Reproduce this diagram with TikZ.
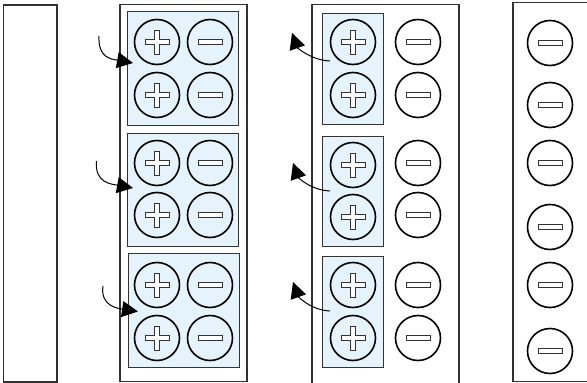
\documentclass[tikz,border=0pt]{standalone}
\usetikzlibrary{arrows.meta}
\definecolor{cellblue}{RGB}{229,244,252}

% a charged particle: circle node with an outlined sign in it
\newcommand\posion[3]{%
  \node[ion] (#1) at (#2,#3) {};
  \draw[sign,shift={(#1.center)}] (-2.5,-12) -- (2.5,-12) -- (2.5,-2.5) -- (12,-2.5)
    -- (12,2.5) -- (2.5,2.5) -- (2.5,12) -- (-2.5,12) -- (-2.5,2.5) -- (-12,2.5)
    -- (-12,-2.5) -- (-2.5,-2.5) -- cycle;}
\newcommand\negion[3]{%
  \node[ion] (#1) at (#2,#3) {};
  \draw[sign,shift={(#1.center)}] (-12,-2.3) rectangle (12,2.3);}

\begin{document}
\begin{tikzpicture}[x=1pt,y=-1pt,
  panel/.style={draw=black!80,line width=1.2pt},
  cell/.style={draw=black!80,fill=cellblue,line width=1pt},
  ion/.style={circle,draw=black,line width=1.6pt,minimum size=45pt,inner sep=0pt},
  sign/.style={draw=black!80,fill=white,line width=0.8pt},
  push/.style={line width=1pt,-{Triangle[length=16pt,width=16pt]}}]
\useasboundingbox (0,0) rectangle (587,383);
\clip (0,0) rectangle (587,383);

% plates
\draw[panel] (3.5,5) rectangle (57,382);
\draw[panel] (120,4.5) rectangle (247,381.5);
\draw[panel] (312,4.5) rectangle (459,390);
\draw[panel] (513,2.5) rectangle (595,381.5);

% paired cells
\draw[cell] (127,11.5) rectangle (238,125);
\draw[cell] (127,133.5) rectangle (238,246.5);
\draw[cell] (128,253) rectangle (239,367);

% cells with the positive charges only
\draw[cell] (322,13.5) rectangle (383,124);
\draw[cell] (322,136) rectangle (383,246.5);
\draw[cell] (322,256.5) rectangle (383,367.5);

% charges, second plate
\posion{pa1}{157}{42}   \negion{na1}{210}{42}
\posion{pa2}{157}{95}   \negion{na2}{210}{95}
\posion{pa3}{157}{163}  \negion{na3}{210}{163}
\posion{pa4}{157}{215}  \negion{na4}{210}{215}
\posion{pa5}{157}{285}  \negion{na5}{210}{285}
\posion{pa6}{157}{338}  \negion{na6}{210}{338}

% charges, third plate
\posion{pb1}{353}{42}   \negion{nb1}{418}{42}
\posion{pb2}{353}{95}   \negion{nb2}{418}{95}
\posion{pb3}{353}{165}  \negion{nb3}{418}{163}
\posion{pb4}{353}{217}  \negion{nb4}{418}{215}
\posion{pb5}{353}{285}  \negion{nb5}{418}{285}
\posion{pb6}{353}{338}  \negion{nb6}{418}{338}

% charges, fourth plate
\negion{nc1}{550}{43}
\negion{nc2}{550}{105}
\negion{nc3}{550}{163}
\negion{nc4}{550}{227}
\negion{nc5}{550}{285}
\negion{nc6}{550}{351}

% pushing arrows into the paired cells
\coordinate (sa1) at (99,36);   \coordinate (ta1) at (133,63);
\coordinate (sa2) at (96.5,161); \coordinate (ta2) at (133,188);
\coordinate (sa3) at (103,286); \coordinate (ta3) at (138,311.5);
\draw[push] (sa1) .. controls +(-1,22) and +(-22,-4) .. (ta1);
\draw[push] (sa2) .. controls +(-2,22) and +(-22,-4) .. (ta2);
\draw[push] (sa3) .. controls +(-3,20) and +(-20,-3) .. (ta3);

% arrows leaving the positive cells
\coordinate (sb1) at (330,61);  \coordinate (tb1) at (292,33);
\coordinate (sb2) at (330,191); \coordinate (tb2) at (293,163);
\coordinate (sb3) at (330,311); \coordinate (tb3) at (293,282);
\draw[push] (sb1) .. controls +(-20,-1) and +(5,14) .. (tb1);
\draw[push] (sb2) .. controls +(-20,-1) and +(5,14) .. (tb2);
\draw[push] (sb3) .. controls +(-20,-1) and +(5,14) .. (tb3);
\end{tikzpicture}
\end{document}
